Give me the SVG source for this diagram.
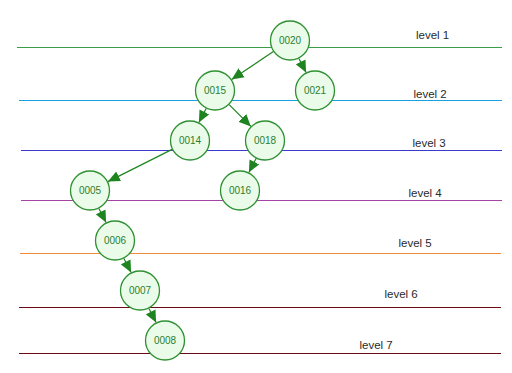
<svg xmlns="http://www.w3.org/2000/svg" width="512" height="373" viewBox="0 0 512 373">
<defs>
<style>
.node circle{fill:#ebfbe9;stroke:#2f9133;stroke-width:1.3}
.node text{font-family:"Liberation Sans",Arial,sans-serif;font-size:10px;fill:#2a7f2e;text-anchor:middle}
.edge{stroke:#1e8420;stroke-width:1.2;fill:none;marker-end:url(#arr)}
.lvl{font-family:"Liberation Sans",Arial,sans-serif;font-size:11.5px;fill:#2a2a2a}
.ln{stroke-width:1;fill:none}
</style>
<marker id="arr" markerUnits="userSpaceOnUse" markerWidth="12" markerHeight="12" refX="10" refY="5" orient="auto" viewBox="0 0 10 10">
<path d="M0,0.5 L10,5 L0,9.5 Z" fill="#1e8420"/>
</marker>
</defs>
<rect width="512" height="373" fill="#fff"/>
<g id="levels">
<line class="ln" x1="17" y1="47.5" x2="502" y2="47.5" stroke="#3a9d4a"/>
<line class="ln" x1="19" y1="100.5" x2="502" y2="100.5" stroke="#16a3e0"/>
<line class="ln" x1="21" y1="150.5" x2="502" y2="150.5" stroke="#3a3ad0"/>
<line class="ln" x1="21" y1="200.5" x2="502" y2="200.5" stroke="#a544a5"/>
<line class="ln" x1="20" y1="253.5" x2="501" y2="253.5" stroke="#f08a3c"/>
<line class="ln" x1="19" y1="307.5" x2="501" y2="307.5" stroke="#6a0a14"/>
<line class="ln" x1="19" y1="353.5" x2="501" y2="353.5" stroke="#6a0a14"/>
<text class="lvl" x="416" y="38.5">level 1</text>
<text class="lvl" x="413.5" y="98">level 2</text>
<text class="lvl" x="412.5" y="147">level 3</text>
<text class="lvl" x="408.5" y="197">level 4</text>
<text class="lvl" x="398.5" y="247">level 5</text>
<text class="lvl" x="384.5" y="298">level 6</text>
<text class="lvl" x="359.5" y="348.5">level 7</text>
</g>
<g id="connectors">
<line class="edge" x1="273.4" y1="51.6" x2="231.6" y2="79.4"/>
<line class="edge" x1="298.9" y1="58.4" x2="306.1" y2="72.6"/>
<line class="edge" x1="206.1" y1="108.4" x2="198.9" y2="122.6"/>
<line class="edge" x1="229.1" y1="104.6" x2="250.9" y2="126.4"/>
<line class="edge" x1="172.1" y1="149.4" x2="107.9" y2="181.6"/>
<line class="edge" x1="256.1" y1="158.4" x2="248.9" y2="172.6"/>
<line class="edge" x1="98.9" y1="208.4" x2="106.1" y2="222.6"/>
<line class="edge" x1="123.9" y1="258.4" x2="131.1" y2="272.6"/>
<line class="edge" x1="148.9" y1="308.4" x2="156.1" y2="322.6"/>
</g>
<g id="n0020" class="node"><circle cx="290" cy="40.5" r="19.5"/><text x="290" y="44">0020</text></g>
<g id="n0015" class="node"><circle cx="215" cy="90.5" r="19.5"/><text x="215" y="94">0015</text></g>
<g id="n0021" class="node"><circle cx="315" cy="90.5" r="19.5"/><text x="315" y="94">0021</text></g>
<g id="n0014" class="node"><circle cx="190" cy="140.5" r="19.5"/><text x="190" y="144">0014</text></g>
<g id="n0018" class="node"><circle cx="265" cy="140.5" r="19.5"/><text x="265" y="144">0018</text></g>
<g id="n0005" class="node"><circle cx="90" cy="190.5" r="19.5"/><text x="90" y="194">0005</text></g>
<g id="n0016" class="node"><circle cx="240" cy="190.5" r="19.5"/><text x="240" y="194">0016</text></g>
<g id="n0006" class="node"><circle cx="115" cy="240.5" r="19.5"/><text x="115" y="244">0006</text></g>
<g id="n0007" class="node"><circle cx="140" cy="290.5" r="19.5"/><text x="140" y="294">0007</text></g>
<g id="n0008" class="node"><circle cx="165" cy="340.5" r="19.5"/><text x="165" y="344">0008</text></g>
</svg>
